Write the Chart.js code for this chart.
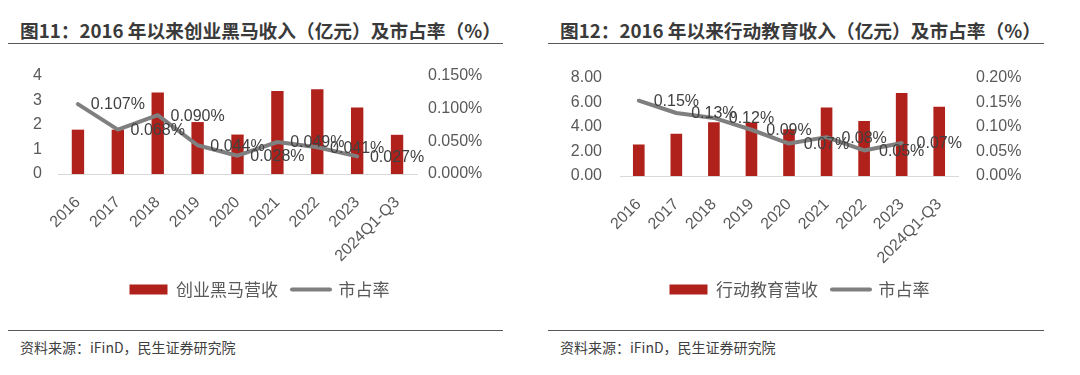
<!DOCTYPE html>
<html>
<head>
<meta charset="utf-8">
<script src="https://cdn.jsdelivr.net/npm/chart.js@4.4.1/dist/chart.umd.min.js"></script>
<style>
  html, body { margin: 0; padding: 0; background: #fff; }
  body { width: 1080px; height: 375px; position: relative; overflow: hidden; font-family: 'Noto Sans CJK SC', 'Noto Sans', sans-serif; }
  .panel { position: absolute; top: 0; width: 540px; height: 375px; }
  .title { position: absolute; left: 20px; top: 17px; font-family: 'Noto Sans CJK SC', 'Noto Sans', sans-serif; font-size: 18.7px; font-weight: 700; color: #3A3A3A; white-space: nowrap; line-height: 26px; }
  .rule { position: absolute; left: 8px; height: 0; border-top: 1.5px solid #595959; }
  .source { position: absolute; left: 20px; top: 337px; font-size: 14px; color: #404040; white-space: nowrap; line-height: 20px; }
  .cv { position: absolute; left: 0; top: 50px; width: 540px; height: 258px; }
</style>
</head>
<body>
<div class="panel" style="left:0">
  <div class="title">图11：2016 年以来创业黑马收入（亿元）及市占率（%）</div>
  <div class="rule" style="top:43px; width:495px"></div>
  <div class="cv"><canvas id="c1" width="540" height="258"></canvas></div>
  <div class="rule" style="top:330px; width:495px"></div>
  <div class="source">资料来源：iFinD，民生证券研究院</div>
</div>
<div class="panel" style="left:540px">
  <div class="title">图12：2016 年以来行动教育收入（亿元）及市占率（%）</div>
  <div class="rule" style="top:43px; width:496px"></div>
  <div class="cv"><canvas id="c2" width="540" height="258"></canvas></div>
  <div class="rule" style="top:330px; width:496px"></div>
  <div class="source">资料来源：iFinD，民生证券研究院</div>
</div>
<script>
// ---- data ----
const categories = ['2016', '2017', '2018', '2019', '2020', '2021', '2022', '2023', '2024Q1-Q3'];
const cyRevenueLabel = '创业黑马营收';
const cyRevenue = [1.81, 1.81, 3.33, 2.12, 1.61, 3.39, 3.46, 2.71, 1.60];
const cyShare = [0.107, 0.068, 0.090, 0.044, 0.028, 0.049, 0.041, 0.027];
const xdRevenueLabel = '行动教育营收';
const xdRevenue = [2.56, 3.43, 4.38, 4.35, 3.80, 5.56, 4.48, 6.75, 5.62];
const xdShare = [0.153, 0.128, 0.118, 0.094, 0.066, 0.079, 0.052, 0.067];
const shareLabel = '市占率';
const cyLeftTicks = [0, 1, 2, 3, 4];
const cyRightTicks = [0, 0.05, 0.10, 0.15];
const xdLeftTicks = [0, 2, 4, 6, 8];
const xdRightTicks = [0, 0.05, 0.10, 0.15, 0.20];

// ---- styles ----
const RED = '#B0211B';
const GRAY = '#7F7F7F';
const TICK = '#595959';
const NUMFONT = "'Liberation Sans', 'Noto Sans CJK SC', sans-serif";
const CJKFONT = "'Noto Sans CJK SC', sans-serif";

const shiftedLabels = {
  id: 'shiftedLabels',
  afterDatasetsDraw(chart, args, opts) {
    const ctx = chart.ctx;
    const xs = chart.scales.x;
    chart.data.datasets.forEach((ds, di) => {
      if (ds.type !== 'line') return;
      const meta = chart.getDatasetMeta(di);
      ctx.save();
      ctx.font = '16px ' + NUMFONT;
      ctx.fillStyle = '#404040';
      ctx.textAlign = 'center';
      ctx.textBaseline = 'middle';
      ds.data.forEach((v, i) => {
        if (v == null) return;
        const x = xs.getPixelForValue(i + 1);
        const y = meta.data[i].y;
        ctx.fillText(v.toFixed(opts.decimals) + '%', x, y + 1);
      });
      ctx.restore();
    });
  }
};

function makeChart(id, label, revenue, share, leftTicks, rightTicks, leftDec, rightDec, dims) {
  new Chart(document.getElementById(id), {
    data: {
      labels: categories,
      datasets: [
        { type: 'bar', label: label, data: revenue, backgroundColor: RED, yAxisID: 'y', order: 1,
          barPercentage: 0.62, categoryPercentage: 0.5 },
        { type: 'line', label: shareLabel, data: share, borderColor: GRAY, borderWidth: 4, yAxisID: 'y1',
          pointRadius: 0, tension: 0, order: 0, borderCapStyle: 'round', borderJoinStyle: 'round' }
      ]
    },
    options: {
      responsive: false,
      animation: false,
      events: [],
      layout: { padding: { top: dims.top, right: 21, left: 0, bottom: 0 } },
      plugins: {
        tooltip: { enabled: false },
        shiftedLabels: { decimals: rightDec },
        legend: {
          position: 'bottom',
          labels: {
            usePointStyle: true,
            pointStyleWidth: 38,
            boxHeight: 10,
            padding: 14,
            color: TICK,
            font: { size: 17, family: CJKFONT },
            generateLabels(chart) {
              return chart.data.datasets.map((ds, i) => ({
                text: ds.label,
                datasetIndex: i,
                hidden: false,
                fontColor: TICK,
                fillStyle: ds.type === 'bar' ? RED : 'rgba(0,0,0,0)',
                strokeStyle: ds.type === 'bar' ? RED : GRAY,
                lineWidth: ds.type === 'bar' ? 0 : 4,
                lineCap: 'round',
                pointStyle: ds.type === 'bar' ? 'rect' : 'line'
              }));
            }
          }
        }
      },
      scales: {
        x: {
          grid: { display: false },
          border: { display: true, color: '#D9D9D9', width: 1 },
          ticks: { color: TICK, font: { size: 16, family: NUMFONT }, minRotation: 45, maxRotation: 45, padding: 11, autoSkip: false },
          afterFit(s) { s.height = dims.xh; }
        },
        y: {
          position: 'left',
          min: leftTicks[0], max: leftTicks[leftTicks.length - 1],
          grid: { display: false, drawTicks: false },
          border: { display: false },
          afterBuildTicks(s) { s.ticks = leftTicks.map(v => ({ value: v })); },
          ticks: { color: TICK, font: { size: 16, family: NUMFONT }, padding: dims.lp,
                   callback: v => v.toFixed(leftDec) },
          afterFit(s) { s.width = dims.lw; }
        },
        y1: {
          position: 'right',
          min: rightTicks[0], max: rightTicks[rightTicks.length - 1],
          grid: { display: false, drawTicks: false },
          border: { display: false },
          afterBuildTicks(s) { s.ticks = rightTicks.map(v => ({ value: v })); },
          ticks: { color: TICK, font: { size: 16, family: NUMFONT }, padding: dims.rp,
                   callback: v => v.toFixed(rightDec) + '%' },
          afterFit(s) { s.width = dims.rw; }
        }
      }
    },
    plugins: [shiftedLabels]
  });
}

makeChart('c1', cyRevenueLabel, cyRevenue, cyShare, cyLeftTicks, cyRightTicks, 0, 3,
  { top: 26, xh: 93, lw: 58, rw: 102, lp: 16, rp: 11 });
makeChart('c2', xdRevenueLabel, xdRevenue, xdShare, xdLeftTicks, xdRightTicks, 2, 2,
  { top: 26, xh: 91, lw: 80, rw: 101, lp: 18, rp: 18 });
</script>
</body>
</html>
